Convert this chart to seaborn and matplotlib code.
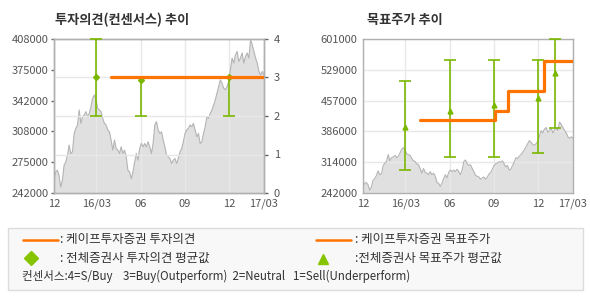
import numpy as np
import pandas as pd
import matplotlib
matplotlib.use("Agg")
import matplotlib.pyplot as plt
import seaborn as sns
from matplotlib.lines import Line2D
from matplotlib.patches import Rectangle

# ---------------- data ----------------
price = [255700, 264700, 266500, 261000, 248500, 255700, 272000, 275500, 282800, 293600,
         284600, 286400, 306200, 311700, 315300, 331500, 317000, 324300, 326000, 329700,
         324300, 327900, 335100, 344100, 347700, 342300, 333300, 331500, 329700, 322500,
         317000, 315300, 309900, 308000, 299000, 288200, 299000, 290000, 288200, 284600,
         291800, 284600, 288200, 281000, 266500, 264700, 257500, 264700, 275500, 284600,
         277400, 290000, 295400, 291800, 295400, 291800, 297200, 291800, 284600, 295400,
         315300, 318900, 309900, 306200, 308000, 299000, 291800, 282800, 281000, 279200,
         273800, 277400, 279200, 273800, 279200, 286400, 290000, 297200, 306200, 309900,
         311700, 315300, 313500, 317000, 309900, 302600, 306200, 295400, 297200, 306200,
         313500, 324300, 322500, 327900, 331500, 336900, 342300, 349500, 356700, 364000,
         360400, 355000, 353200, 356700, 362200, 374800, 387400, 382000, 391000, 394600,
         383800, 387400, 392900, 382000, 389200, 392900, 387400, 407300, 401900, 394600,
         387400, 382000, 373000, 369400, 373000, 369400]
price_start = "2015-12-05"
price_end = "2017-02-11"

# company's investment opinion (Buy = 3)
op_dates = ["2016-04-01", "2017-02-11"]
op_values = [3, 3]
# consensus opinion (mean, min, max)
cons_dates = ["2016-03-01", "2016-06-01", "2016-12-01"]
cons_mean = [3.0, 2.93, 3.0]
cons_low = [2, 2, 2]
cons_high = [4, 3, 3]

# company's target price (step line)
tp_dates = ["2016-04-01", "2016-09-02", "2016-09-30", "2016-12-14", "2017-02-11"]
tp_values = [413000, 432000, 480000, 550000, 550000]
# consensus target price (mean, min, max)
tg_dates = ["2016-03-01", "2016-06-01", "2016-09-01", "2016-12-01", "2017-01-05"]
tg_mean = [397000, 432000, 446000, 463000, 522000]
tg_low = [296000, 326000, 326000, 335000, 394000]
tg_high = [503000, 552000, 552000, 552000, 601000]

xtick_dates = ["2015-12-05", "2016-03-01", "2016-06-01", "2016-09-01", "2016-12-01", "2017-02-11"]
xtick_labels = ["12", "16/03", "06", "09", "12", "17/03"]
left_ylabels = ["242000", "275000", "308000", "342000", "375000", "408000"]
right_ylabels = ["242000", "314000", "386000", "457000", "529000", "601000"]
opinion_ticks = [0, 1, 2, 3, 4]

# ---------------- style ----------------
sns.set_style("white")
plt.rcParams["font.family"] = ["Noto Sans CJK KR", "DejaVu Sans"]

ORANGE = "#ff7300"
GREEN = "#7ab800"
FILL = "#e0e0e0"
EDGE = "#b4b4b4"
GRID = "#e8e8e8"
SPINE = "#b0b0b0"
TXT = "#555555"

df = pd.DataFrame({"date": pd.date_range(price_start, price_end, periods=len(price)),
                   "price": price})
xt = pd.to_datetime(xtick_dates)
xlim = (pd.Timestamp(price_start), pd.Timestamp(price_end))

fig = plt.figure(figsize=(5.9, 3.0), dpi=100)
W, H = 590, 300


def style_axes(ax):
    for s in ax.spines.values():
        s.set_color(SPINE)
        s.set_linewidth(1)
    ax.tick_params(axis="both", colors="#666666", labelcolor=TXT, labelsize=8,
                   length=2, width=1, pad=2)


def price_area(ax):
    ax.fill_between(df["date"], df["price"], 0, color=FILL, lw=0, zorder=1)
    sns.lineplot(data=df, x="date", y="price", ax=ax, color=EDGE, lw=0.8, zorder=2)
    ax.set_xlim(*xlim)
    ax.set_xticks(xt)
    ax.set_xticklabels(xtick_labels)
    ax.set_xlabel("")
    ax.set_ylabel("")
    ax.set_axisbelow("line")


# ---------------- left chart ----------------
axL = fig.add_axes([54 / W, 1 - 193 / H, 210 / W, 154 / H])
price_area(axL)
axL.set_ylim(242000, 408000)
axL.set_yticks(np.linspace(242000, 408000, 6))
axL.set_yticklabels(left_ylabels)
axL.grid(axis="x", color=GRID, lw=1)
axL.grid(axis="y", visible=False)
style_axes(axL)

axR2 = axL.twinx()
axR2.set_ylim(0, 4)
axR2.set_yticks(opinion_ticks)
axR2.grid(axis="y", color=GRID, lw=1)
cd = pd.to_datetime(cons_dates)
cm = np.array(cons_mean)
axR2.errorbar(cd, cm, yerr=[cm - np.array(cons_low), np.array(cons_high) - cm],
              fmt="D", color=GREEN, ms=3, elinewidth=1.2, capsize=4, capthick=1.2,
              clip_on=False, zorder=3)
opdf = pd.DataFrame({"date": pd.to_datetime(op_dates), "v": op_values})
sns.lineplot(data=opdf, x="date", y="v", ax=axR2, color=ORANGE, lw=2.3,
             drawstyle="steps-post", zorder=4)
axR2.set_xlim(*xlim)
axR2.set_ylabel("")
style_axes(axR2)
axR2.tick_params(axis="y", pad=4, length=3)

fig.text(55 / W, 1 - 20 / H, "투자의견(컨센서스) 추이", fontsize=9.5, fontweight="bold",
         color="#333333", va="center", ha="left")

# ---------------- right chart ----------------
axT = fig.add_axes([363 / W, 1 - 193 / H, 210 / W, 154 / H])
price_area(axT)
axT.set_ylim(242000, 601000)
axT.set_yticks(np.linspace(242000, 601000, 6))
axT.set_yticklabels(right_ylabels)
axT.grid(True, color=GRID, lw=1)
tgd = pd.to_datetime(tg_dates)
tm = np.array(tg_mean)
axT.errorbar(tgd, tm, yerr=[tm - np.array(tg_low), np.array(tg_high) - tm],
             fmt="^", color=GREEN, ms=3.5, elinewidth=1.2, capsize=4, capthick=1.2,
             clip_on=False, zorder=3)
tpdf = pd.DataFrame({"date": pd.to_datetime(tp_dates), "v": tp_values})
sns.lineplot(data=tpdf, x="date", y="v", ax=axT, color=ORANGE, lw=2.3,
             drawstyle="steps-post", zorder=4)
axT.set_xlim(*xlim)
axT.set_xlabel("")
axT.set_ylabel("")
style_axes(axT)

fig.text(367 / W, 1 - 20 / H, "목표주가 추이", fontsize=9.5, fontweight="bold",
         color="#333333", va="center", ha="left")

# ---------------- legend box ----------------
fig.add_artist(Rectangle((8 / W, 1 - 290 / H), 575 / W, 62 / H, transform=fig.transFigure,
                         facecolor="#f8f8f8", edgecolor="#dcdcdc", lw=1))


def fy(y):
    return 1 - y / H


LFS = 9
fig.add_artist(Line2D([23 / W, 58 / W], [fy(240)] * 2, color=ORANGE, lw=1.8,
                      transform=fig.transFigure))
fig.text(60 / W, fy(240), ": 케이프투자증권 투자의견", fontsize=LFS, color="#333333", va="center")
fig.add_artist(Line2D([316 / W, 351 / W], [fy(240)] * 2, color=ORANGE, lw=1.8,
                      transform=fig.transFigure))
fig.text(355 / W, fy(240), ": 케이프투자증권 목표주가", fontsize=LFS, color="#333333", va="center")
fig.add_artist(Line2D([31 / W], [fy(258)], marker="D", ms=7, color="#86c400", lw=0,
                      transform=fig.transFigure))
fig.text(60 / W, fy(258), ": 전체증권사 투자의견 평균값", fontsize=LFS, color="#333333", va="center")
fig.add_artist(Line2D([323 / W], [fy(259)], marker="^", ms=7, color="#86c400", lw=0,
                      transform=fig.transFigure))
fig.text(355 / W, fy(258), ":전체증권사 목표주가 평균값", fontsize=LFS, color="#333333", va="center")
fig.text(22 / W, fy(276), "컨센서스:4=S/Buy    3=Buy(Outperform)  2=Neutral   1=Sell(Underperform)",
         fontsize=8.3, color="#333333", va="center")

fig.savefig("out.png", dpi=100, facecolor="white")
